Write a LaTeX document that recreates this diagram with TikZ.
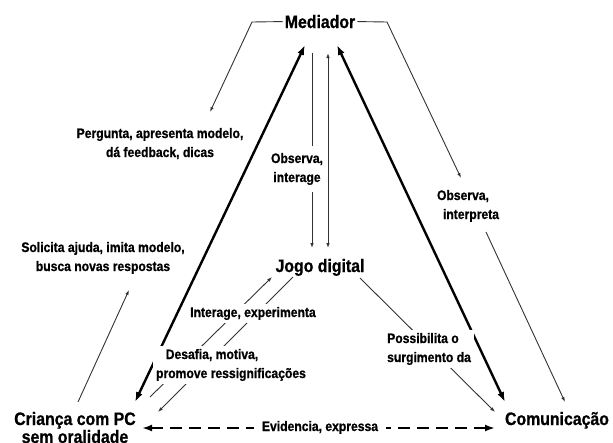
\documentclass[tikz,border=0pt]{standalone}
\usepackage{fontspec}
\setmainfont{Liberation Sans}[FakeStretch=0.88, BoldFeatures={FakeBold=0.8}]
\usetikzlibrary{arrows.meta}
\begin{document}
\begin{tikzpicture}[x=1pt,y=-1pt,
  big/.style={font=\fontsize{18}{18}\selectfont\bfseries, inner sep=0pt, anchor=base},
  lab/.style={font=\fontsize{13.8}{19}\selectfont\bfseries, align=center, anchor=base, fill=white, inner sep=2pt},
  heavy/.style={line width=2.4pt, {Latex[length=10pt,width=7pt]}-{Latex[length=10pt,width=7pt]}},
  thin/.style={line width=0.9pt, draw=black!80},
  tip/.style={-{Latex[length=5pt,width=3.5pt]}},
  tips/.style={{Latex[length=5pt,width=3.5pt]}-{Latex[length=5pt,width=3.5pt]}},
  dashedarrow/.style={line width=2.1pt, dash pattern=on 12pt off 7pt, {Latex[length=10pt,width=7pt]}-{Latex[length=10pt,width=7pt]}},
]
\useasboundingbox (0,0) rectangle (613,442);
\fill[white] (0,0) rectangle (613,442);

% main nodes (base anchor = baseline of the last line)
\node[big] (med) at (320,28) {Mediador};
\node[big] (jogo) at (320,272) {Jogo digital};
\node[big, align=center] (cri) at (75,443) {Criança com PC\\sem oralidade};
\node[big] (com) at (557,425) {Comunicação};

% coordinates
\coordinate (mtl) at (305,45);
\coordinate (mtr) at (337,45);
\coordinate (ctl) at (135,402);
\coordinate (ctr) at (505,402);
\coordinate (vl1) at (312,53);
\coordinate (vl2) at (312,248);
\coordinate (vr1) at (328,53);
\coordinate (vr2) at (328,248);
\coordinate (lb1) at (252,22);
\coordinate (lbt) at (210,112);
\coordinate (lbs) at (78,402);
\coordinate (lbe) at (129,290);
\coordinate (rb1) at (387,22);
\coordinate (rbt) at (461,178);
\coordinate (rbs) at (486,232);
\coordinate (rbe) at (565,402);
\coordinate (a1s) at (150,397);
\coordinate (a1e) at (272,277);
\coordinate (a2s) at (293,277);
\coordinate (a2e) at (158,412);
\coordinate (a3s) at (360,278);
\coordinate (a3e) at (495,412);
\coordinate (dl) at (142,428);
\coordinate (dr) at (495,428);

% thick triangle sides
\draw[heavy] (ctl) -- (mtl);
\draw[heavy] (mtr) -- (ctr);

% vertical lines
\draw[thin, tip] (vl1) -- (vl2);
\draw[thin, tips] (vr2) -- (vr1);

% brackets
\draw[thin, tip] ([xshift=-2pt]med.west) -- (lb1) -- (lbt);
\draw[thin, tip] (lbs) -- (lbe);
\draw[thin, tip] ([xshift=2pt]med.east) -- (rb1) -- (rbt);
\draw[thin, tip] (rbs) -- (rbe);

% diagonal arrows
\draw[thin, tip] (a1s) -- (a1e);
\draw[thin, tip] (a2s) -- (a2e);
\draw[thin, tip] (a3s) -- (a3e);

% dashed
\draw[dashedarrow] (dl) -- (dr);

% labels
\node[lab] (perg) at (160,157) {Pergunta, apresenta modelo,\\dá feedback, dicas};
\node[lab] (sol) at (103,271) {Solicita ajuda, imita modelo,\\busca novas respostas};
\node[lab, inner ysep=7pt, inner xsep=1pt] (obsi) at (297,182) {Observa,\\interage};
\node[lab, align=left] (obsp) at (468,219) {Observa,\\\hspace*{6pt}interpreta};
\node[lab, inner sep=3pt] (inter) at (253,317) {Interage, experimenta};
\node[lab, inner sep=3pt] (desa) at (231,378) {Desafia, motiva,\hspace*{38pt}\\promove ressignificações};
\node[lab, align=left, anchor=base west, inner sep=3pt] (poss) at (384,362) {Possibilita o\\surgimento da};
\node[lab, inner xsep=8pt] (evi) at (320,431) {Evidencia, expressa};
\end{tikzpicture}
\end{document}
